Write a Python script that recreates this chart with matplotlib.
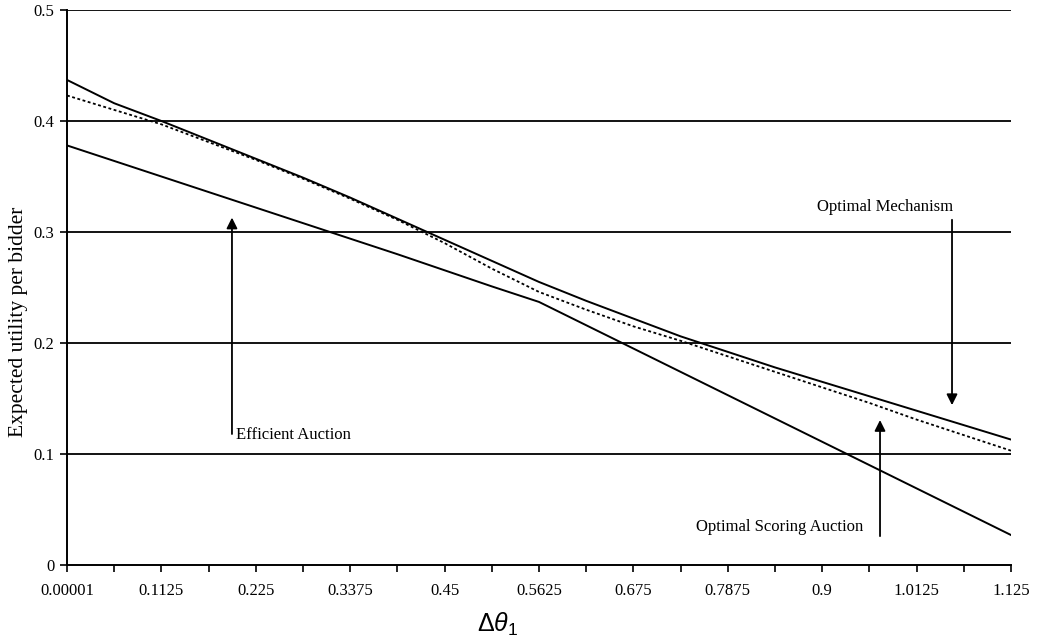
import matplotlib
matplotlib.use('Agg')
import matplotlib.pyplot as plt
import numpy as np

# x categories (delta theta_1), one point per tick
x_vals = [0.00001, 0.05625, 0.1125, 0.16875, 0.225, 0.28125, 0.3375, 0.39375,
          0.45, 0.50625, 0.5625, 0.61875, 0.675, 0.73125, 0.7875, 0.84375,
          0.9, 0.95625, 1.0125, 1.06875, 1.125]
x_labels = ['0.00001', '0.1125', '0.225', '0.3375', '0.45', '0.5625',
            '0.675', '0.7875', '0.9', '1.0125', '1.125']

# expected utility per bidder
optimal_mechanism = [0.437, 0.416, 0.400, 0.383, 0.366, 0.349, 0.331, 0.312,
                     0.293, 0.274, 0.255, 0.238, 0.222, 0.206, 0.192, 0.178,
                     0.165, 0.152, 0.139, 0.126, 0.113]
optimal_scoring = [0.423, 0.410, 0.397, 0.381, 0.365, 0.348, 0.330, 0.311,
                   0.290, 0.267, 0.246, 0.230, 0.215, 0.202, 0.188, 0.174,
                   0.160, 0.146, 0.131, 0.117, 0.103]
efficient_auction = [0.378, 0.364, 0.350, 0.336, 0.322, 0.308, 0.294, 0.280,
                     0.2655, 0.251, 0.237, 0.216, 0.195, 0.174, 0.153, 0.132,
                     0.111, 0.090, 0.069, 0.048, 0.027]
y_ticks = [0, 0.1, 0.2, 0.3, 0.4, 0.5]
y_labels = ['0', '0.1', '0.2', '0.3', '0.4', '0.5']

plt.rcParams['font.family'] = ['Liberation Serif', 'DejaVu Serif']
plt.rcParams['mathtext.fontset'] = 'custom'
plt.rcParams['mathtext.rm'] = 'Liberation Sans'
plt.rcParams['mathtext.it'] = 'Liberation Sans:italic'

fig = plt.figure(figsize=(10.39, 6.39), dpi=100)
ax = fig.add_axes([67/1039, 1 - 565/639, (1011 - 67)/1039, (565 - 10)/639])

# horizontal grid lines
for yv in y_ticks[1:]:
  ax.axhline(yv, color='black', lw=1.3, zorder=1)

ax.plot(x_vals, optimal_mechanism, color='black', lw=1.4, zorder=3)
ax.plot(x_vals, optimal_scoring, color='black', lw=1.3, ls=(0, (1.6, 1.4)), zorder=3)
ax.plot(x_vals, efficient_auction, color='black', lw=1.4, zorder=3)

ax.set_xlim(0, 1.125)
ax.set_ylim(0, 0.5)
ax.set_xticks(x_vals)
ax.set_xticklabels([x_labels[i // 2] if i % 2 == 0 else '' for i in range(len(x_vals))])
ax.set_yticks(y_ticks)
ax.set_yticklabels(y_labels)
ax.tick_params(axis='both', direction='out', length=5, width=1.2, labelsize=12, color='black')
ax.tick_params(axis='x', pad=8)
ax.tick_params(axis='y', pad=4)

for side in ['top', 'right']:
  ax.spines[side].set_visible(False)
for side in ['left', 'bottom']:
  ax.spines[side].set_linewidth(1.4)

arrow = dict(arrowstyle='-|>', color='black', lw=1.3, mutation_scale=16,
             shrinkA=0, shrinkB=0)

ax.annotate('', xy=(0.1966, 0.313), xytext=(0.1966, 0.118), arrowprops=arrow)
ax.text(0.2014, 0.117, 'Efficient Auction', fontsize=12, ha='left', va='center')

ax.annotate('', xy=(1.0547, 0.144), xytext=(1.0547, 0.311), arrowprops=arrow)
ax.text(0.9748, 0.3225, 'Optimal Mechanism', fontsize=12, ha='center', va='center')

ax.annotate('', xy=(0.9689, 0.1306), xytext=(0.9689, 0.026), arrowprops=arrow)
ax.text(0.9486, 0.034, 'Optimal Scoring Auction', fontsize=12, ha='right', va='center')

fig.text(19/1039, 1 - 322/639, 'Expected utility per bidder', fontsize=15.5,
         rotation=90, ha='center', va='center')
fig.text(498/1039, 1 - 632/639, r'$\mathit{\Delta\theta}_{\mathrm{1}}$', fontsize=18,
         ha='center', va='baseline')

fig.savefig('out.png', dpi=100)
